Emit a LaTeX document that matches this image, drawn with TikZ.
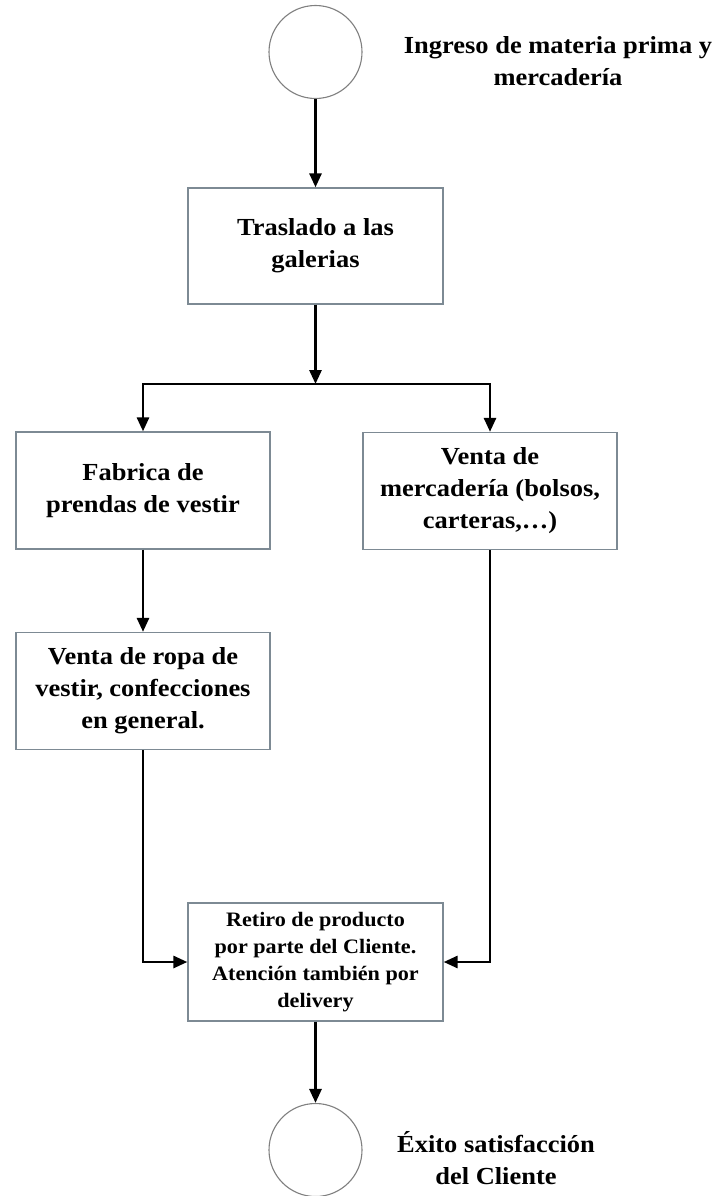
\documentclass[tikz,border=0pt]{standalone}
\usepackage{fontspec}
\setmainfont{Liberation Serif}[FakeStretch=1.08]
\usetikzlibrary{arrows.meta}
\definecolor{boxgray}{RGB}{125,138,148}
\definecolor{circgray}{RGB}{128,128,128}
\tikzset{
  stepbox/.style={draw=boxgray, line width=1.3pt, fill=white, minimum width=254pt,
    minimum height=117pt, align=center, inner sep=0pt,
    font=\fontsize{24.5}{32}\selectfont\bfseries},
  smallbox/.style={stepbox, font=\fontsize{20.5}{27}\selectfont\bfseries},
  endcirc/.style={draw=circgray, line width=1.1pt, circle, minimum size=93pt, inner sep=0pt},
  lbl/.style={align=center, font=\fontsize{24.5}{32}\selectfont\bfseries},
  arr/.style={line width=2.8pt, -{Triangle[length=14pt,width=12pt]}},
  ln/.style={line width=2.8pt}
}
\begin{document}
\begin{tikzpicture}[x=1pt,y=-1pt]
\path[use as bounding box, fill=white] (0,0) rectangle (723,1196);
\node[endcirc] (c1) at (315.5,52) {};
\node[lbl] (l1) at (558,61) {Ingreso de materia prima y\\mercadería};
\node[stepbox, minimum width=255pt, minimum height=116pt] (t) at (315.5,246) {Traslado a las\\galerias};
\coordinate (j) at (315.5,384);
\node[stepbox] (fab) at (143,490.5) {Fabrica de\\prendas de vestir};
\node[stepbox] (vm) at (490,491) {Venta de\\mercadería (bolsos,\\carteras,…)};
\node[stepbox] (ropa) at (143,691) {Venta de ropa de\\vestir, confecciones\\en general.};
\node[smallbox, minimum width=255pt, minimum height=118pt] (ret) at (315.5,962) {Retiro de producto\\por parte del Cliente.\\Atención también por\\delivery};
\node[endcirc] (c2) at (315.5,1150) {};
\node[lbl] (l2) at (496,1158) {Éxito satisfacción\\del Cliente};
\draw[arr] (c1.south) -- (t.north);
\draw[arr] (t.south) -- (j);
\draw[arr] (j) -| (fab.north);
\draw[arr] (j) -| (vm.north);
\draw[arr] (fab.south) -- (ropa.north);
\draw[arr] (ropa.south) |- (ret.west);
\draw[arr] (vm.south) |- (ret.east);
\draw[arr] (ret.south) -- (c2.north);
\end{tikzpicture}
\end{document}
